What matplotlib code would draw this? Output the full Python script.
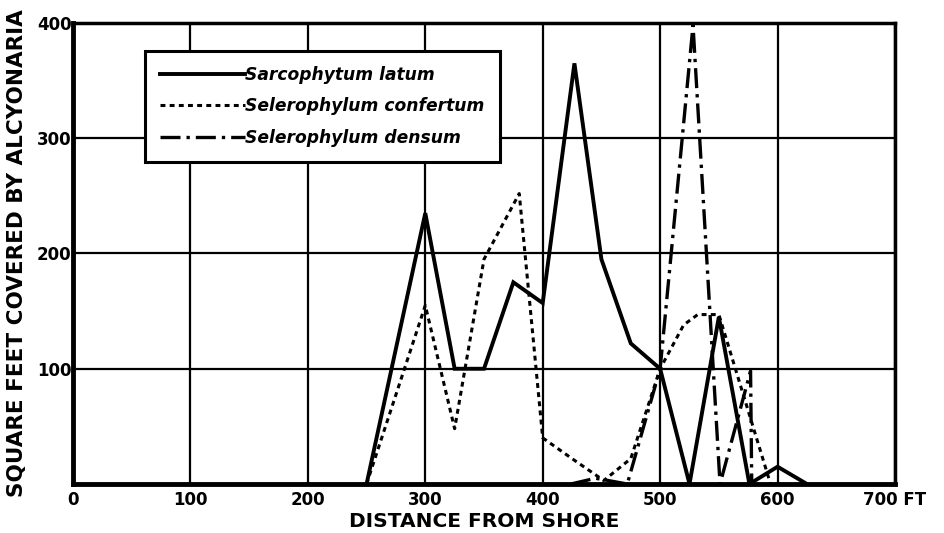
import matplotlib
matplotlib.use("Agg")
import matplotlib.pyplot as plt

# Sarcophytum latum (solid)
latum_x = [250, 300, 325, 350, 375, 400, 427, 450, 475, 500, 525, 550, 576, 600, 625]
latum_y = [0, 235, 100, 100, 175, 157, 365, 195, 122, 100, 0, 145, 0, 15, 0]

# Selerophylum confertum (dotted)
conf_x = [250, 300, 325, 350, 380, 400, 425, 452, 475, 500, 520, 532, 550, 594]
conf_y = [0, 155, 48, 195, 252, 40, 22, 3, 22, 100, 138, 147, 147, 0]

# Selerophylum densum (dash-dot)
dens_x = [424, 445, 472, 500, 528, 551, 577, 578]
dens_y = [0, 5, 0, 100, 398, 0, 98, 0]

x_ticks = [0, 100, 200, 300, 400, 500, 600, 700]
x_ticklabels = ["0", "100", "200", "300", "400", "500", "600", "700 FT"]
y_ticks = [100, 200, 300, 400]
y_ticklabels = ["100", "200", "300", "400"]
names = ["Sarcophytum latum", "Selerophylum confertum", "Selerophylum densum"]

fig = plt.figure(figsize=(9.45, 5.33), dpi=100)
ax = fig.add_axes([73/945, 49/533, 822/945, 461/533])
ax.set_xlim(0, 700)
ax.set_ylim(0, 400)

ax.set_xticks(x_ticks)
ax.set_xticklabels(x_ticklabels)
ax.set_yticks(y_ticks)
ax.set_yticklabels(y_ticklabels)
ax.tick_params(axis="both", length=0, labelsize=12)
ax.tick_params(axis="x", pad=5)
ax.tick_params(axis="y", pad=1)
for lab in ax.get_xticklabels() + ax.get_yticklabels():
    lab.set_fontweight("bold")

ax.grid(True, color="black", linewidth=1.6)
ax.set_axisbelow(True)
for side, lw in [("left", 3.5), ("bottom", 3.5), ("top", 2.5), ("right", 2.5)]:
    ax.spines[side].set_linewidth(lw)
    ax.spines[side].set_color("black")

l1, = ax.plot(latum_x, latum_y, color="black", linewidth=2.8,
              solid_joinstyle="miter", label=names[0])
l2, = ax.plot(conf_x, conf_y, color="black", linewidth=2.2,
              linestyle=(0, (1.6, 1.4)), label=names[1])
l3, = ax.plot(dens_x, dens_y, color="black", linewidth=2.4,
              linestyle=(0, (6, 1.8, 1, 1.8)), label=names[2])

leg = ax.legend(loc="upper left", bbox_to_anchor=(0.087, 0.94),
                prop={"size": 12.3, "weight": "bold", "style": "italic"},
                handlelength=5.0, handletextpad=0.0, labelspacing=0.78,
                borderpad=0.9, borderaxespad=0, fancybox=False, framealpha=1,
                edgecolor="black")
leg.get_frame().set_linewidth(2.2)
leg.set_zorder(5)

ax.set_xlabel("DISTANCE FROM SHORE", fontsize=14.5, fontweight="bold", labelpad=2)
ax.set_ylabel("SQUARE FEET COVERED BY ALCYONARIA", fontsize=15.5, fontweight="bold", labelpad=7)

fig.savefig("out.png", dpi=100)
